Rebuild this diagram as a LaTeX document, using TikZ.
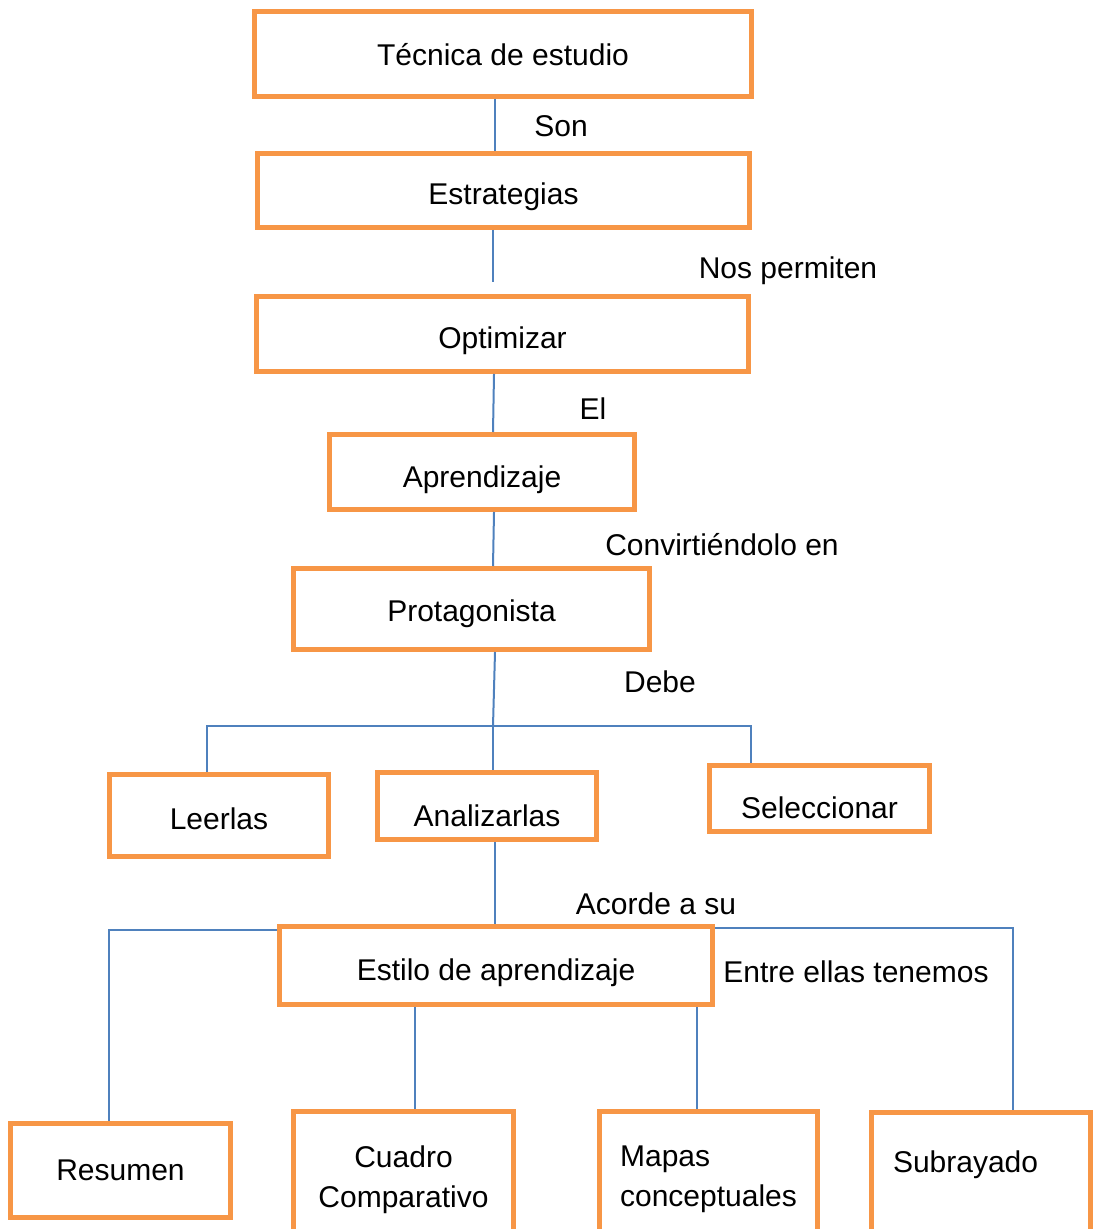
\documentclass[tikz,border=0pt]{standalone}
\usepackage{fontspec}
\setmainfont{Liberation Sans}
\usetikzlibrary{positioning}
\definecolor{boxline}{HTML}{F79646}
\definecolor{linkline}{HTML}{4F81BD}

\begin{document}
\begin{tikzpicture}[x=0.5pt,y=-0.5pt,
  box/.style={draw=boxline,line width=2.5pt,fill=white,inner sep=0pt,align=center,font=\fontsize{15}{20}\selectfont},
  tbox/.style={box,text height=#1,text depth=0pt},
  tbox/.default=14pt,
  link/.style={draw=linkline,line width=1pt},
  lbl/.style={font=\fontsize{15}{20}\selectfont,inner sep=0pt}]
\path[use as bounding box,clip] (0,0) rectangle (1093,1229);
% chain of boxes
\node[tbox=12pt,minimum width=248.5pt,minimum height=42.5pt] (tec) at (503,54) {Técnica de estudio};
\node[tbox,minimum width=246pt,minimum height=37pt] (est) at (503.5,190.5) {Estrategias};
\node[tbox=15pt,minimum width=246pt,minimum height=37.5pt] (opt) at (502.5,334) {Optimizar};
\node[tbox=15pt,minimum width=152.5pt,minimum height=37.5pt] (apr) at (482,472) {Aprendizaje};
\node[tbox=12pt,minimum width=178pt,minimum height=40.5pt] (pro) at (471.5,609) {Protagonista};
\node[tbox=13.5pt,minimum width=109.5pt,minimum height=41pt] (lee) at (219,815.5) {Leerlas};
\node[tbox=20pt,minimum width=109.5pt,minimum height=33.5pt] (ana) at (487,806) {Analizarlas};
\node[tbox=20pt,minimum width=110pt,minimum height=33pt] (sel) at (819.5,798.5) {Seleccionar};
\node[tbox=14.5pt,minimum width=216.5pt,minimum height=39pt] (sty) at (496,965.5) {Estilo de aprendizaje};
% bottom row
\node[tbox=10pt,minimum width=110pt,minimum height=47pt] (res) at (120.5,1170.5) {Resumen};
\node[box,minimum width=110pt,minimum height=68pt] (cua) at (403.5,1179.5) {Cuadro\\Comparativo};
\node[box,align=left,minimum width=109pt,minimum height=68pt] (map) at (708.5,1179.5) {Mapas\\conceptuales};
\node[box,align=left,text width=88pt,inner xsep=10.75pt,text height=30pt,text depth=40pt,anchor=north] (sub) at (981,1109.5) {Subrayado};
% links
\coordinate (gap) at (493,282);
\coordinate (jun) at (493,726);
\draw[link] ([xshift=-4pt]tec.south) -- ([xshift=-4pt]tec.south |- est.north);
\draw[link] ([xshift=-5.25pt]est.south) -- (gap);
\draw[link] ([xshift=-4.25pt]opt.south) -- ([xshift=5.5pt]apr.north);
\draw[link] ([xshift=6pt]apr.south) -- ([xshift=10.75pt]pro.north);
\draw[link] ([xshift=11.75pt]pro.south) -- (jun);
\draw[link] ([xshift=-6pt]lee.north) |- (jun) -| ([xshift=-34.25pt]sel.north);
\draw[link] (jun) -- ([xshift=3pt]ana.north);
\draw[link] ([xshift=4pt]ana.south) -- ([xshift=4pt]ana.south |- sty.north);
\draw[link] ([yshift=-3pt]sty.north west) -| ([xshift=-5.75pt]res.north);
\draw[link] ([yshift=-2pt]sty.north east) -| ([xshift=16pt]sub.north);
\draw[link] ([xshift=-40.5pt]sty.south) -- ([xshift=-40.5pt]sty.south |- cua.north);
\draw[link] ([xshift=100.5pt]sty.south) -- ([xshift=100.5pt]sty.south |- map.north);
% link labels
\node[lbl] (son) at (561,126) {Son};
\node[lbl] (perm) at (788,271) {Nos permiten};
\node[lbl] (el) at (593,409) {El};
\node[lbl] (conv) at (722,545) {Convirtiéndolo en};
\node[lbl] (debe) at (660,682) {Debe};
\node[lbl] (acor) at (656,904) {Acorde a su};
\node[lbl] (entre) at (856,972) {Entre ellas tenemos};
\end{tikzpicture}
\end{document}
